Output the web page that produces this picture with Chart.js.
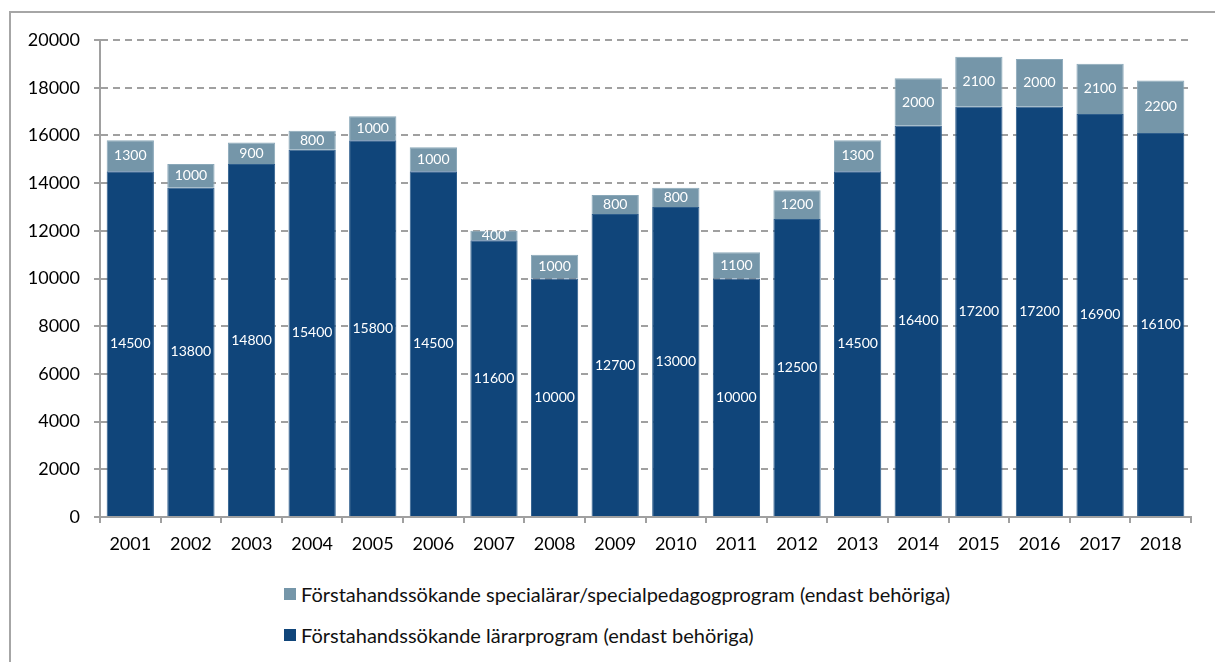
<!DOCTYPE html>
<html>
<head>
<meta charset="utf-8">
<script src="https://cdn.jsdelivr.net/npm/chart.js@4.4.0/dist/chart.umd.min.js"></script>
<style>
  body { margin: 0; background: #ffffff; font-family: Lato, sans-serif; }
  #frame { position: absolute; left: 9px; top: 11px; width: 1300px; height: 800px;
           border-left: 2px solid #a6a6a6; border-top: 2px solid #a6a6a6; }
  #wrap { position: absolute; left: 0; top: 0; width: 1215px; height: 560px; }
  #legend { position: absolute; left: 284px; top: 582px; font-size: 20px; color: #111; }
  #legend div { height: 41px; line-height: 24px; display: flex; align-items: flex-start; }
  #legend span.box { display: inline-block; width: 12px; height: 12px; margin: 6px 5px 0 0; flex: none; }
</style>
</head>
<body>
<div id="frame"></div>
<div id="wrap"><canvas id="chart"></canvas></div>
<div id="legend"></div>
<script>
// years on the x axis
const years = ['2001','2002','2003','2004','2005','2006','2007','2008','2009',
               '2010','2011','2012','2013','2014','2015','2016','2017','2018'];
// first-choice applicants, teacher programmes (eligible only)
const teacherApplicants = [14500,13800,14800,15400,15800,14500,11600,10000,12700,
                           13000,10000,12500,14500,16400,17200,17200,16900,16100];
// first-choice applicants, special teacher / special education programmes
const specialApplicants = [1300,1000,900,800,1000,1000,400,1000,800,
                           800,1100,1200,1300,2000,2100,2000,2100,2200];
const yTicks = [0,2000,4000,6000,8000,10000,12000,14000,16000,18000,20000];

const darkBlue = '#10457a';
const greyBlue = '#7596a9';

// writes the value in the middle of each bar segment
const barLabels = {
  id: 'barLabels',
  afterDatasetsDraw(chart) {
    const ctx = chart.ctx;
    ctx.save();
    ctx.font = '14px Lato';
    ctx.fillStyle = '#ffffff';
    ctx.textAlign = 'center';
    ctx.textBaseline = 'middle';
    chart.data.datasets.forEach((ds, di) => {
      chart.getDatasetMeta(di).data.forEach((bar, i) => {
        const mid = (bar.y + bar.base) / 2;
        ctx.fillText(ds.data[i], bar.x, mid);
      });
    });
    ctx.restore();
  }
};

const chart = new Chart(document.getElementById('chart'), {
  type: 'bar',
  data: {
    labels: years,
    datasets: [
      { label: 'Förstahandssökande lärarprogram (endast behöriga)',
        data: teacherApplicants, backgroundColor: darkBlue,
        borderColor: '#2d5d8c', borderWidth: 1 },
      { label: 'Förstahandssökande specialärar/specialpedagogprogram (endast behöriga)',
        data: specialApplicants, backgroundColor: greyBlue,
        borderColor: '#8aa8b9', borderWidth: 1 }
    ]
  },
  options: {
    responsive: true,
    maintainAspectRatio: false,
    animation: false,
    layout: { padding: { left: 0, right: 24, top: 40, bottom: 0 } },
    datasets: { bar: { barPercentage: 0.78, categoryPercentage: 1 } },
    plugins: { legend: { display: false }, tooltip: { enabled: false } },
    scales: {
      x: {
        stacked: true,
        grid: { drawOnChartArea: false, drawTicks: true, tickLength: 6,
                color: '#a0a0a0', lineWidth: 2, offset: true },
        border: { color: '#a0a0a0', width: 2 },
        ticks: { color: '#000', font: { family: 'Lato', size: 18 }, padding: 10, maxRotation: 0 },
        afterFit(scale) { scale.height = 43; }
      },
      y: {
        stacked: true,
        min: 0, max: 20000,
        afterBuildTicks(scale) { scale.ticks = yTicks.map(v => ({ value: v })); },
        grid: { color: '#a0a0a0', lineWidth: 2, tickLength: 6, tickBorderDash: [] },
        border: { color: '#a0a0a0', width: 2, dash: [7, 5] },
        ticks: { color: '#000', font: { family: 'Lato', size: 18 }, padding: 14,
                 callback: v => String(v) },
        afterFit(scale) { scale.width = 100; }
      }
    }
  },
  plugins: [barLabels]
});

// legend below the chart, one item per line, top segment first
const legend = document.getElementById('legend');
chart.data.datasets.slice().reverse().forEach(ds => {
  const row = document.createElement('div');
  row.innerHTML = '<span class="box" style="background:' + ds.backgroundColor + '"></span>' + ds.label;
  legend.appendChild(row);
});
</script>
</body>
</html>
